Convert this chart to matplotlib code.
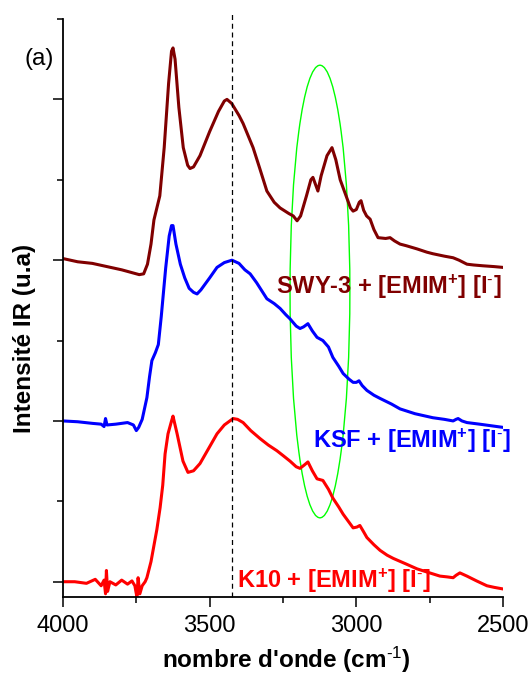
import matplotlib
matplotlib.use("Agg")
import matplotlib.pyplot as plt
from matplotlib.patches import Ellipse
from matplotlib.ticker import MultipleLocator

plt.rcParams['font.family'] = ['Liberation Sans', 'DejaVu Sans']
plt.rcParams['mathtext.fontset'] = 'custom'
plt.rcParams['mathtext.rm'] = 'Liberation Sans'
plt.rcParams['mathtext.bf'] = 'Liberation Sans:bold'
plt.rcParams['mathtext.default'] = 'bf'

# ---- data (offset intensities as plotted) ----
swy_x = [4000, 3950, 3900, 3850, 3800, 3760, 3740, 3725, 3712, 3700, 3690, 3680, 3670, 3655, 3640,
         3630, 3625, 3618, 3605, 3590, 3575, 3567, 3555, 3533, 3500, 3470, 3450, 3441, 3425, 3400,
         3386, 3352, 3330, 3305, 3280, 3260, 3230, 3215, 3202, 3190, 3170, 3155, 3148, 3140, 3131,
         3120, 3100, 3083, 3070, 3055, 3045, 3030, 3020, 3011, 3000, 2990, 2984, 2975, 2965, 2953,
         2940, 2926, 2900, 2885, 2870, 2851, 2830, 2793, 2760, 2739, 2700, 2670, 2650, 2623, 2600,
         2568, 2530, 2500]
swy_y = [4.02, 3.98, 3.96, 3.92, 3.88, 3.84, 3.82, 3.83, 3.95, 4.2, 4.5, 4.65, 4.8, 5.4, 6.2,
         6.6, 6.64, 6.5, 5.9, 5.4, 5.18, 5.14, 5.16, 5.3, 5.6, 5.85, 5.98, 6.0, 5.95, 5.8,
         5.70, 5.40, 5.15, 4.86, 4.72, 4.65, 4.58, 4.55, 4.49, 4.55, 4.8, 5.0, 5.03, 4.95, 4.86,
         5.05, 5.3, 5.40, 5.25, 5.0, 4.90, 4.75, 4.65, 4.61, 4.63, 4.72, 4.74, 4.62, 4.55, 4.51,
         4.38, 4.28, 4.27, 4.28, 4.24, 4.20, 4.18, 4.14, 4.10, 4.08, 4.05, 4.03, 4.0, 3.95, 3.94,
         3.93, 3.92, 3.91]

ksf_x = [4000, 3950, 3900, 3870, 3860, 3855, 3850, 3820, 3800, 3780, 3760, 3750, 3742, 3730, 3714,
         3705, 3697, 3685, 3675, 3665, 3650, 3638, 3630, 3625, 3615, 3600, 3585, 3570, 3555, 3543,
         3530, 3500, 3475, 3450, 3424, 3400, 3380, 3362, 3340, 3305, 3280, 3260, 3240, 3226, 3205,
         3192, 3180, 3165, 3150, 3134, 3114, 3095, 3080, 3060, 3045, 3025, 3011, 3000, 2991, 2980,
         2964, 2940, 2919, 2880, 2851, 2800, 2739, 2700, 2670, 2660, 2653, 2640, 2623, 2580, 2540,
         2500]
ksf_y = [2.0, 1.99, 1.97, 1.96, 1.93, 2.03, 1.95, 1.96, 1.97, 1.98, 1.95, 1.88, 1.92, 2.02, 2.29,
         2.55, 2.75, 2.85, 2.95, 3.3, 3.9, 4.3, 4.43, 4.43, 4.2, 3.95, 3.78, 3.65, 3.6, 3.58,
         3.63, 3.78, 3.91, 3.97, 4.0, 3.96, 3.88, 3.83, 3.72, 3.52, 3.46, 3.40, 3.32, 3.27, 3.18,
         3.15, 3.17, 3.21, 3.12, 3.04, 3.00, 2.92, 2.79, 2.68, 2.59, 2.52, 2.48, 2.48, 2.50, 2.44,
         2.38, 2.32, 2.28, 2.21, 2.15, 2.09, 2.04, 2.02, 2.00, 2.02, 2.03, 2.0, 1.98, 1.96, 1.94,
         1.92]

k10_x = [4000, 3960, 3920, 3890, 3870, 3860, 3855, 3852, 3848, 3840, 3820, 3800, 3780, 3765, 3755,
         3748, 3744, 3738, 3730, 3720, 3714, 3700, 3693, 3680, 3669, 3660, 3652, 3642, 3630, 3625,
         3618, 3611, 3591, 3574, 3555, 3533, 3500, 3475, 3450, 3420, 3405, 3386, 3360, 3328, 3300,
         3271, 3250, 3226, 3205, 3192, 3178, 3165, 3150, 3134, 3114, 3095, 3080, 3060, 3045, 3025,
         3011, 2998, 2988, 2975, 2964, 2940, 2919, 2895, 2874, 2830, 2793, 2750, 2715, 2690, 2670,
         2660, 2647, 2635, 2623, 2590, 2555, 2530, 2500]
k10_y = [0.0, 0.0, -0.02, 0.03, -0.05, 0.02, -0.15, 0.14, -0.12, 0.0, -0.04, 0.02, -0.03, 0.01, -0.05,
         -0.19, 0.05, -0.15, -0.05, 0.0, 0.05, 0.25, 0.39, 0.65, 0.92, 1.2, 1.59, 1.84, 2.0, 2.06,
         1.95, 1.84, 1.50, 1.36, 1.38, 1.47, 1.68, 1.84, 1.95, 2.03, 2.02, 1.98, 1.88, 1.78, 1.70,
         1.63, 1.57, 1.50, 1.43, 1.41, 1.45, 1.49, 1.38, 1.28, 1.26, 1.15, 1.04, 0.93, 0.84, 0.74,
         0.67, 0.68, 0.70, 0.62, 0.55, 0.46, 0.39, 0.33, 0.29, 0.22, 0.16, 0.11, 0.07, 0.06, 0.05,
         0.08, 0.11, 0.09, 0.07, 0.01, -0.05, -0.07, -0.09]

labels = [r'SWY-3 + [EMIM$^{+}$] [I$^{\text{-}}$]', r'KSF + [EMIM$^{+}$] [I$^{\text{-}}$]',
          r'K10 + [EMIM$^{+}$] [I$^{\text{-}}$]']
colors = ['#800000', '#0000ff', '#ff0000']
ref_line = 3425

fig = plt.figure(figsize=(5.31, 6.75), dpi=100)
ax = fig.add_axes([63/531, 78/675, 440/531, 578/675])

lw = 2.2
ax.plot(swy_x, swy_y, color=colors[0], lw=lw)
ax.plot(ksf_x, ksf_y, color=colors[1], lw=lw)
ax.plot(k10_x, k10_y, color=colors[2], lw=lw)

ax.plot([ref_line, ref_line], [-0.19, 7.07], color='black', lw=0.9, ls=(0, (4, 3)), clip_on=False)

ax.add_patch(Ellipse((3124, 3.61), 204, 5.63, fill=False, edgecolor='#00ff00', lw=1.0))

fs_lab = 17
ax.text(3274, 3.58, labels[0], color=colors[0], fontsize=fs_lab, fontweight='bold', ha='left', va='baseline')
ax.text(3148, 1.67, labels[1], color=colors[1], fontsize=fs_lab, fontweight='bold', ha='left', va='baseline')
ax.text(3407, -0.07, labels[2], color=colors[2], fontsize=fs_lab, fontweight='bold', ha='left', va='baseline')

ax.set_xlim(4000, 2500)
ax.set_ylim(-0.19, 7.0)
ax.xaxis.set_major_locator(MultipleLocator(500))
ax.xaxis.set_minor_locator(MultipleLocator(250))
ax.yaxis.set_major_locator(MultipleLocator(2))
ax.yaxis.set_minor_locator(MultipleLocator(1))
ax.set_yticklabels([])
ax.tick_params(axis='x', which='major', length=7, width=1.1, labelsize=17, pad=6)
ax.tick_params(axis='x', which='minor', length=4, width=1.1)
ax.tick_params(axis='y', which='major', length=7, width=1.1)
ax.tick_params(axis='y', which='minor', length=4, width=1.1)
for s in ['top', 'right']:
    ax.spines[s].set_visible(False)
for s in ['left', 'bottom']:
    ax.spines[s].set_linewidth(1.3)

fig.text(286/531, 1 - 660/675, r"nombre d'onde (cm$^{\text{-1}}$)", ha='center', va='center',
         fontsize=17.5, fontweight='bold')
fig.text(25/531, 1 - 338/675, 'Intensité IR (u.a)', ha='center', va='center', rotation=90,
         fontsize=17.5, fontweight='bold')
fig.text(25/531, 1 - 65/675, '(a)', ha='left', va='baseline', fontsize=17.5)

fig.savefig('out.png', dpi=100)
